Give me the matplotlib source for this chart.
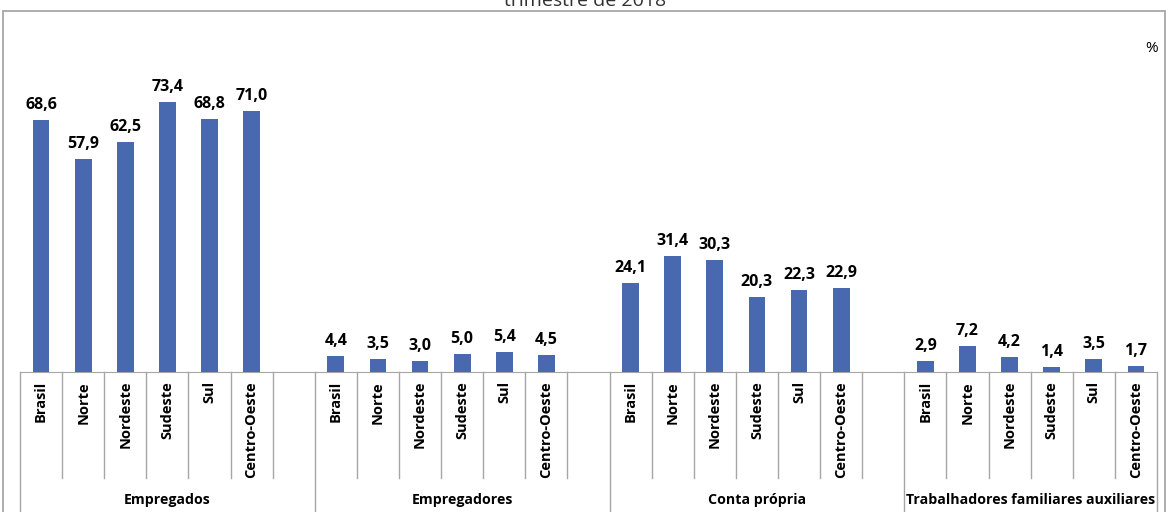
import numpy as np
import matplotlib.pyplot as plt
from matplotlib.patches import Rectangle

plt.rcParams['font.family'] = ['Open Sans', 'DejaVu Sans']

grupos = ['Empregados', 'Empregadores', 'Conta própria', 'Trabalhadores familiares auxiliares']
regioes = ['Brasil', 'Norte', 'Nordeste', 'Sudeste', 'Sul', 'Centro-Oeste']
empregados = [68.6, 57.9, 62.5, 73.4, 68.8, 71.0]
empregadores = [4.4, 3.5, 3.0, 5.0, 5.4, 4.5]
conta_propria = [24.1, 31.4, 30.3, 20.3, 22.3, 22.9]
familiares = [2.9, 7.2, 4.2, 1.4, 3.5, 1.7]
series = [empregados, empregadores, conta_propria, familiares]

W, H = 1171, 512
fig = plt.figure(figsize=(W / 100, H / 100), dpi=100)

# axes placement in pixels
x0, x1, base = 20, 1157, 372
ymax = 80
ppu = 3.68  # pixels per unit
ax_h = ymax * ppu
ax = fig.add_axes([x0 / W, 1 - base / H, (x1 - x0) / W, ax_h / H])

bar_color = '#4868B0'
line_color = '#A6A6A6'

nslots = 27
for g, vals in enumerate(series):
    xs = np.arange(len(vals)) + g * 7
    ax.bar(xs, vals, width=0.4, color=bar_color, zorder=3)
    for x, v in zip(xs, vals):
        ax.text(x, v + 7 / ppu, f'{v:.1f}'.replace('.', ','), ha='center', va='bottom',
                fontsize=11.5, fontweight='bold', color='black')
        ax.text(x, -9 / ax_h, regioes[x - g * 7], transform=ax.get_xaxis_transform(),
                rotation=90, ha='center', va='top', fontsize=10.5, fontweight='bold')
    gstart = g * 7 - 0.5
    gend = min(gstart + 7, nslots - 0.5)
    ax.text((gstart + gend) / 2, -128 / ax_h, grupos[g], transform=ax.get_xaxis_transform(),
            ha='center', va='center', fontsize=10.2, fontweight='bold')

# separator lines under the axis
group_edges = [0, 7, 14, 21, 27]
for k in range(nslots + 1):
    xb = k - 0.5
    y_end = -0.7 if k in group_edges else -(478 - base) / ax_h
    ax.plot([xb, xb], [0, y_end], transform=ax.get_xaxis_transform(), color=line_color,
            lw=1, clip_on=False)

ax.set_xlim(-0.5, nslots - 0.5)
ax.set_ylim(0, ymax)
for s in ['top', 'right', 'left']:
    ax.spines[s].set_visible(False)
ax.spines['bottom'].set_color(line_color)
ax.set_xticks([])
ax.set_yticks([])
ax.patch.set_alpha(0)

# outer frame
fig.patches.append(Rectangle((3 / W, -0.1), (1165 - 3) / W, 1.1 - 11 / H, transform=fig.transFigure,
                             fill=False, edgecolor='#A0A0A0', lw=1.2))

fig.text(1152 / W, 1 - 48 / H, '%', ha='center', va='center', fontsize=11)
fig.text(0.5, 1 - 1 / H, 'trimestre de 2018', ha='center', va='center', fontsize=14, color='#303030')

fig.savefig('out.png', dpi=100)
